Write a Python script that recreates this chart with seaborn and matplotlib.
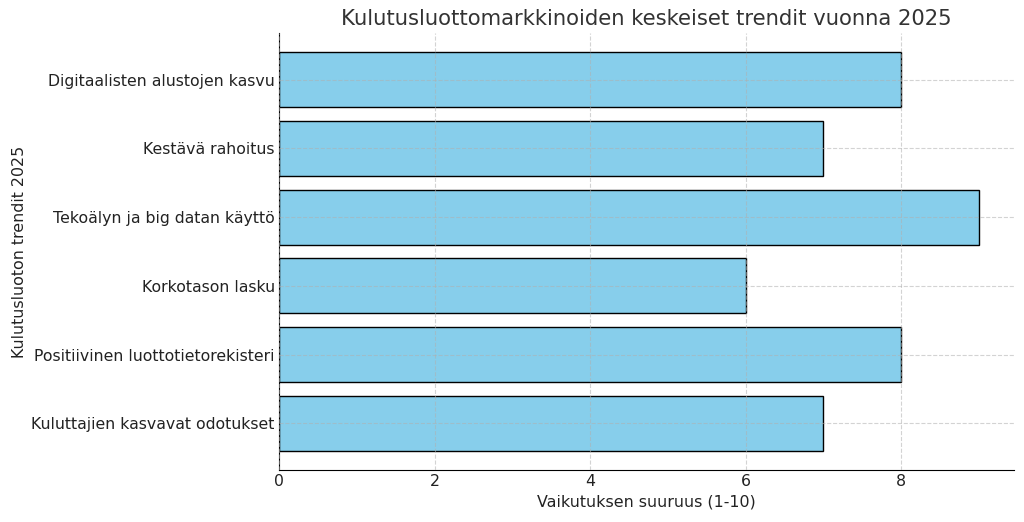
import matplotlib
matplotlib.use("Agg")
import matplotlib.pyplot as plt
import seaborn as sns
import pandas as pd

trends = [
    "Digitaalisten alustojen kasvu",
    "Kestävä rahoitus",
    "Tekoälyn ja big datan käyttö",
    "Korkotason lasku",
    "Positiivinen luottotietorekisteri",
    "Kuluttajien kasvavat odotukset",
]
impact = [8, 7, 9, 6, 8, 7]

df = pd.DataFrame({"trend": trends, "impact": impact})

sns.set_style("white")
plt.rcParams['font.family'] = ['DejaVu Sans']

fig = plt.figure(figsize=(10.24, 5.22), dpi=100)
ax = fig.add_axes([0.2725, 0.0996, 0.7175, 0.8374])

sns.barplot(data=df, x="impact", y="trend", orient="h", color="skyblue",
            saturation=1, edgecolor="black", linewidth=1, width=0.8, ax=ax)

ax.set_xlim(0, 9.45)
ax.set_ylim(5.68, -0.68)
ax.set_xticks([0, 2, 4, 6, 8])
# grid sits on top of the bars in the original
ax.grid(True, linestyle="--", color="#b0b0b0", linewidth=0.8, alpha=0.55)
ax.set_axisbelow(False)
for s in ["top", "right"]:
    ax.spines[s].set_visible(False)
ax.spines["left"].set_color("black")
ax.spines["bottom"].set_color("black")

ax.tick_params(axis="both", labelsize=11.3, colors="#222222", length=0, pad=3)
ax.set_xlabel("Vaikutuksen suuruus (1-10)", fontsize=11.4, color="#222222")
ax.set_ylabel("Kulutusluoton trendit 2025", fontsize=11.4, color="#222222",
              labelpad=3)
ax.set_title("Kulutusluottomarkkinoiden keskeiset trendit vuonna 2025",
             fontsize=15.2, color="#333333")

fig.savefig("out.png", dpi=100)
